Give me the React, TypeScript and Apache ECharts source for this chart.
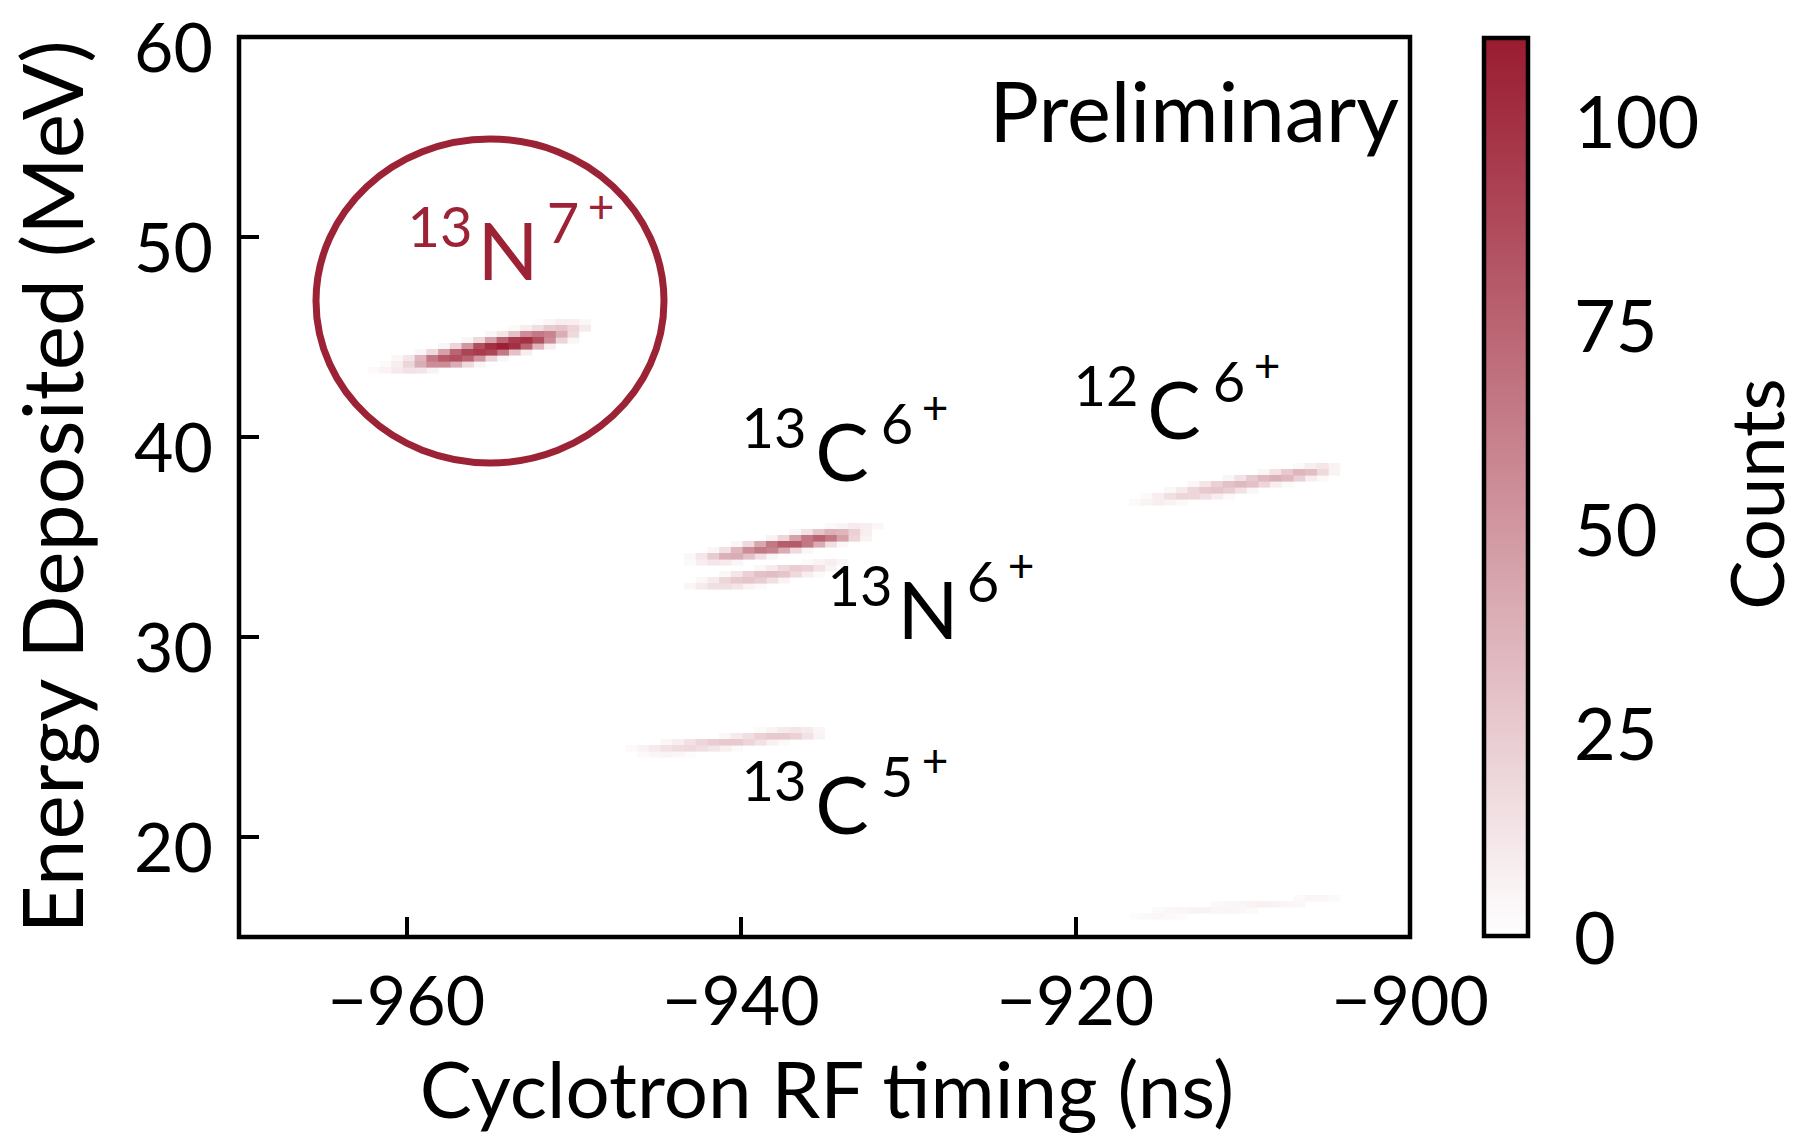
import React, { useEffect, useRef } from "react";
import * as echarts from "echarts";

// ---------- axes ----------
const X_MIN = -970;
const X_MAX = -900;
const Y_MIN = 15;
const Y_MAX = 60;
const X_BIN = 0.7;
const Y_BIN = 0.3;
const xTickValues = [-960, -940, -920, -900];
const yTickValues = [20, 30, 40, 50, 60];
const countTickValues = [0, 25, 50, 75, 100];
const COUNT_MAX = 110;

// ---------- histogram rows: [yBinStart (MeV), xBinStart (ns), counts per 0.7 ns bin] ----------
type Row = [number, number, number[]];

const n7PlusRows: Row[] = [
  [43.2, -962.3, [3, 6, 10, 14, 12, 6]],
  [43.5, -961.6, [3, 8, 20, 40, 55, 55, 40, 18, 5]],
  [43.8, -960.9, [4, 12, 35, 65, 80, 85, 75, 50, 20, 5]],
  [44.1, -959.5, [5, 18, 45, 75, 90, 95, 90, 65, 30, 8]],
  [44.4, -958.1, [5, 20, 50, 85, 100, 108, 100, 75, 35, 8]],
  [44.7, -956.7, [5, 18, 45, 75, 95, 100, 85, 55, 20, 5]],
  [45.0, -955.3, [4, 12, 30, 55, 65, 60, 40, 18]],
  [45.3, -953.9, [3, 8, 16, 25, 28, 20, 10]],
  [45.6, -952.5, [2, 5, 8, 8, 4]],
];

const c6Plus13Rows: Row[] = [
  [33.6, -943.4, [3, 8, 12, 10, 5]],
  [33.9, -943.4, [4, 12, 25, 38, 40, 30, 15, 5]],
  [34.2, -942.0, [5, 15, 35, 55, 65, 60, 40, 18, 5]],
  [34.5, -940.6, [5, 18, 42, 65, 78, 80, 65, 40, 15, 4]],
  [34.8, -938.5, [6, 20, 45, 65, 75, 65, 45, 20, 6]],
  [35.1, -937.1, [5, 14, 28, 38, 35, 22, 8]],
  [35.4, -935.0, [3, 6, 10, 8, 4]],
];

const n6Plus13Rows: Row[] = [
  [32.4, -943.4, [4, 10, 15, 16, 12, 6, 3]],
  [32.7, -942.7, [4, 10, 20, 26, 28, 24, 15, 6]],
  [33.0, -941.3, [4, 12, 22, 30, 32, 28, 18, 8, 3]],
  [33.3, -939.2, [4, 10, 18, 24, 22, 14, 6]],
  [33.6, -936.4, [3, 6, 8, 5]],
];

const c6Plus12Rows: Row[] = [
  [36.6, -916.8, [3, 6, 8, 6, 3]],
  [36.9, -916.1, [3, 8, 15, 20, 20, 15, 8, 3]],
  [37.2, -914.7, [4, 10, 20, 26, 28, 24, 14, 5]],
  [37.5, -913.3, [4, 12, 22, 30, 34, 30, 20, 8, 3]],
  [37.8, -911.2, [5, 14, 26, 34, 38, 34, 22, 8, 3]],
  [38.1, -909.1, [5, 14, 26, 35, 32, 18, 6]],
  [38.4, -907.0, [3, 8, 12, 6]],
];

const c5Plus13Rows: Row[] = [
  [24.0, -946.2, [3, 5, 6, 4, 2]],
  [24.3, -946.9, [3, 6, 10, 14, 17, 18, 16, 12, 7, 3]],
  [24.6, -944.8, [4, 8, 14, 20, 24, 26, 25, 20, 14, 7, 3]],
  [24.9, -941.3, [4, 10, 16, 22, 26, 26, 22, 14, 6]],
  [25.2, -939.2, [3, 6, 10, 12, 10, 5]],
];

const lowEnergyRows: Row[] = [
  [15.9, -916.8, [2, 3, 4, 3, 2]],
  [16.2, -915.4, [3, 4, 5, 6, 6, 5, 5, 4, 3]],
  [16.5, -911.9, [3, 4, 5, 6, 7, 6, 5, 4]],
  [16.8, -907.0, [3, 5, 5, 3]],
];

// ---------- annotations ----------
const RED = "#9b2335";
const ionLabels = [
  { mass: "13", el: "N", charge: "7", color: RED, x: 508, y: 249 },
  { mass: "13", el: "C", charge: "6", color: "#000", x: 842, y: 450 },
  { mass: "13", el: "N", charge: "6", color: "#000", x: 928, y: 608 },
  { mass: "12", el: "C", charge: "6", color: "#000", x: 1174, y: 408 },
  { mass: "13", el: "C", charge: "5", color: "#000", x: 842, y: 803 },
];

const FONT = "Lato";

function cellsFrom(rows: Row[]): number[][] {
  const out: number[][] = [];
  rows.forEach(([y0, x0, vals]) => {
    vals.forEach((v, j) => {
      if (v > 0) out.push([+(x0 + j * X_BIN).toFixed(2), y0, v]);
    });
  });
  return out;
}

function txt(
  text: string,
  x: number,
  y: number,
  size: number,
  color: string,
  align = "center",
  rotation = 0,
  lineHeight?: number
) {
  return {
    type: "text",
    x,
    y,
    rotation,
    z: 20,
    style: {
      text,
      fill: color,
      fontSize: size,
      fontFamily: FONT,
      lineHeight: lineHeight ?? size,
      align,
      textAlign: align,
      verticalAlign: "middle",
      textVerticalAlign: "middle",
    },
  };
}

export default function App() {
  const ref = useRef<HTMLDivElement>(null);

  useEffect(() => {
    if (!ref.current) return;
    const chart = echarts.init(ref.current, null, { renderer: "svg" });

    const cells = [
      ...cellsFrom(lowEnergyRows),
      ...cellsFrom(c5Plus13Rows),
      ...cellsFrom(n6Plus13Rows),
      ...cellsFrom(c6Plus13Rows),
      ...cellsFrom(c6Plus12Rows),
      ...cellsFrom(n7PlusRows),
    ].sort((a, b) => a[2] - b[2]);

    const labelStyle = { color: "#000", fontSize: 72, fontFamily: FONT };

    chart.setOption({
      animation: false,
      backgroundColor: "#fff",
      grid: [
        {
          left: 239,
          top: 37,
          width: 1171,
          height: 900,
          show: true,
          borderColor: "#000",
          borderWidth: 4.5,
          backgroundColor: "transparent",
          containLabel: false,
          outerBoundsMode: "none",
          z: 10,
        },
        {
          left: 1484,
          top: 38,
          width: 44,
          height: 898,
          containLabel: false,
          outerBoundsMode: "none",
        },
      ],
      xAxis: [
        {
          type: "value",
          gridIndex: 0,
          min: X_MIN,
          max: X_MAX,
          axisLine: { show: false },
          splitLine: { show: false },
          axisTick: {
            show: true,
            inside: true,
            length: 20,
            lineStyle: { color: "#000", width: 4 },
            customValues: xTickValues,
          },
          axisLabel: {
            ...labelStyle,
            fontSize: 68,
            margin: 33,
            lineHeight: 56,
            customValues: xTickValues,
            formatter: (v: number) => (v < 0 ? "\u2212" + Math.abs(v) : String(v)),
          },
        },
        {
          type: "value",
          gridIndex: 1,
          min: 0,
          max: 1,
          show: false,
        },
      ],
      yAxis: [
        {
          type: "value",
          gridIndex: 0,
          min: Y_MIN,
          max: Y_MAX,
          axisLine: { show: false },
          splitLine: { show: false },
          axisTick: {
            show: true,
            inside: true,
            length: 20,
            lineStyle: { color: "#000", width: 4 },
            customValues: yTickValues,
          },
          axisLabel: { show: false },
        },
        {
          type: "value",
          gridIndex: 1,
          position: "right",
          min: 0,
          max: COUNT_MAX,
          axisLine: { show: false },
          splitLine: { show: false },
          axisTick: {
            show: true,
            inside: false,
            length: 25,
            lineStyle: { color: "#000", width: 4 },
            customValues: countTickValues,
          },
          axisLabel: {
            ...labelStyle,
            margin: 46,
            lineHeight: 60,
            customValues: countTickValues,
          },
        },
      ],
      visualMap: {
        type: "continuous",
        show: false,
        min: 0,
        max: COUNT_MAX,
        dimension: 2,
        seriesIndex: 0,
        inRange: { color: ["#ffffff", "#9a1b30"] },
      },
      series: [
        {
          type: "custom",
          xAxisIndex: 0,
          yAxisIndex: 0,
          dimensions: ["t", "E", "count"],
          encode: { x: 0, y: 1 },
          data: cells,
          z: 2,
          renderItem: (params: any, api: any) => {
            const x0 = api.value(0);
            const y0 = api.value(1);
            const p0 = api.coord([x0, y0 + Y_BIN]);
            const p1 = api.coord([x0 + X_BIN, y0]);
            return {
              type: "rect",
              shape: {
                x: p0[0],
                y: p0[1],
                width: p1[0] - p0[0] + 0.6,
                height: p1[1] - p0[1] + 0.6,
              },
              style: { fill: api.visual("color") },
            };
          },
        },
      ],
    });

    const graphics: any[] = [];
    // y tick labels placed via the axis scale (slightly below tick, as in the reference font)
    yTickValues.forEach((v) => {
      const py = chart.convertToPixel({ yAxisIndex: 0 } as any, v) as number;
      graphics.push(txt(String(v), 213, py + 8, 68, "#000", "right", 0, 68));
    });
    ionLabels.forEach((l) => {
      graphics.push(txt(l.mass, l.x - 68, l.y - 24, 56, l.color));
      graphics.push(txt(l.el, l.x, l.y, 80, l.color));
      graphics.push(txt(l.charge, l.x + 55, l.y - 28, 56, l.color));
      graphics.push(txt("+", l.x + 93, l.y - 44, 46, l.color));
    });
    graphics.push({
      type: "ellipse",
      z: 20,
      shape: { cx: 490, cy: 301, rx: 174, ry: 162 },
      style: { fill: "none", stroke: RED, lineWidth: 7 },
    });
    graphics.push(txt("Preliminary", 1399, 110, 83, "#000", "right"));
    graphics.push(txt("Cyclotron RF timing (ns)", 827, 1088, 78, "#000", "center", 0, 66));
    graphics.push(txt("Energy Deposited (MeV)", 50, 487, 84, "#000", "center", Math.PI / 2, 70));
    graphics.push(txt("Counts", 1755, 494, 74, "#000", "center", Math.PI / 2, 60));
    graphics.push({
      type: "rect",
      z: 5,
      shape: { x: 1484, y: 38, width: 44, height: 898 },
      style: {
        fill: new echarts.graphic.LinearGradient(0, 0, 0, 1, [
          { offset: 0, color: "#9a1b30" },
          { offset: 1, color: "#ffffff" },
        ]),
        stroke: "#000",
        lineWidth: 4.5,
      },
    });

    chart.setOption({ graphic: graphics });

    return () => chart.dispose();
  }, []);

  return (
    <div
      ref={ref}
      style={{ position: "absolute", left: 0, top: 0, width: 1801, height: 1137 }}
    />
  );
}
